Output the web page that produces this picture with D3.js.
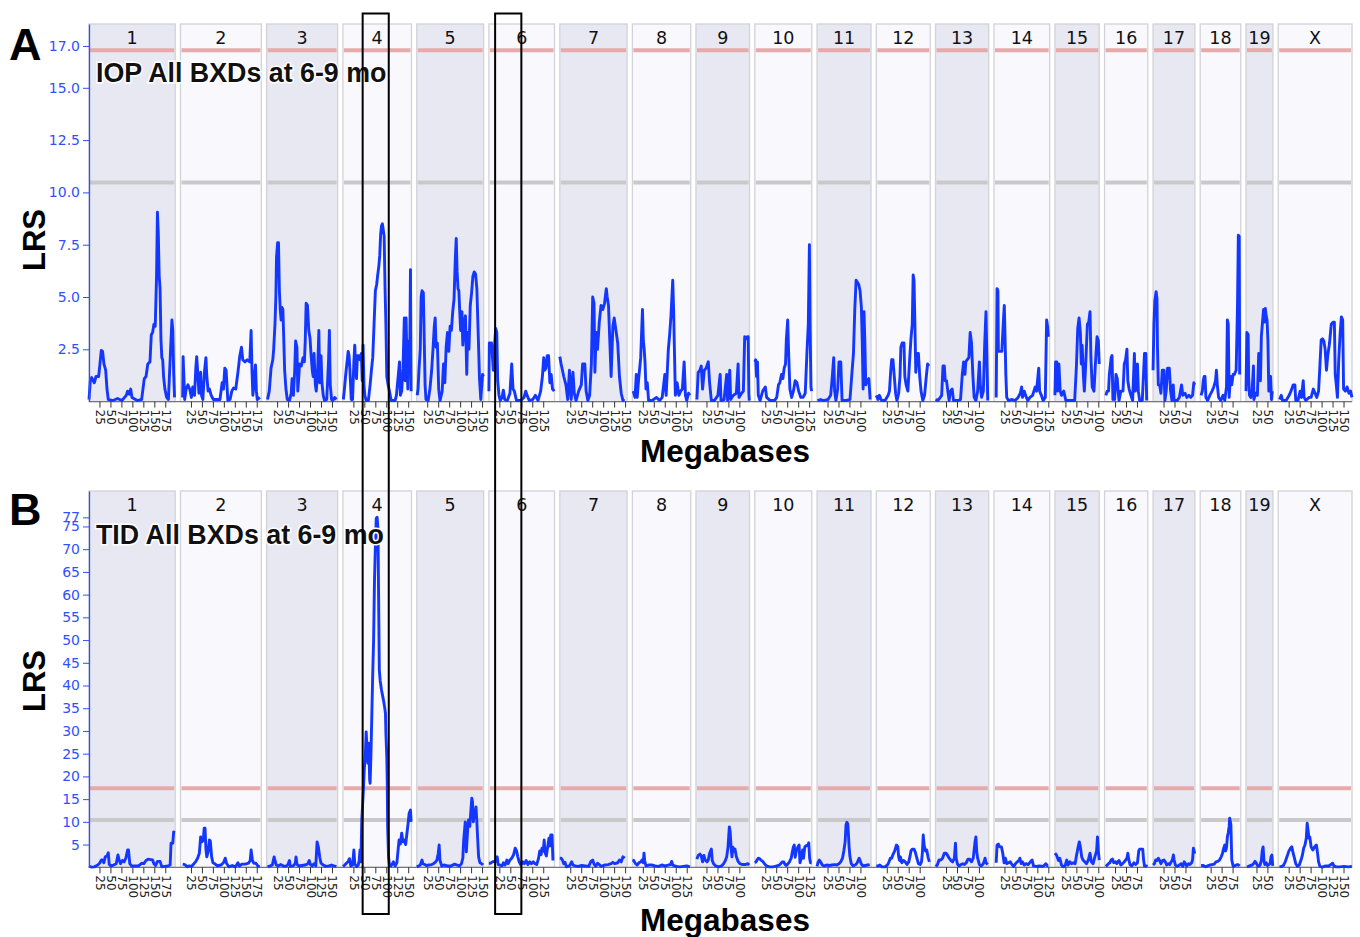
<!DOCTYPE html>
<html>
<head>
  <meta charset="utf-8">
  <title>IOP / TID LRS maps</title>
  <script src="https://d3js.org/d3.v7.min.js"></script>
  <style>
    body{margin:0;background:#fff;}
  </style>
</head>
<body>
<script>
  var w = 1360;
  var h = 937;

  // chromosomes and their lengths (Mb)
  var chrNames = ["1","2","3","4","5","6","7","8","9","10","11","12","13","14","15","16","17","18","19","X"];
  var chrLengths = [196.5,184.4,161.8,156.3,152.4,149.6,153.4,133,122,129.9,123,123,121.2,126.9,101.1,98.5,95.4,92.4,61.4,168.2];

  // IOP, LRS by chromosome: [Mb, LRS]
  var iop1 = [[0,0.1],[3,1.0],[6,1.15],[12,0.9],[16,1.2],[22,1.2],[25,1.8],[28,2.45],[31,2.4],[34,1.8],[38,1.5],[41,0.6],[44,0.1],[55,0.05],[65,0.15],[75,0.05],[85,0.3],[88,0.5],[92,0.35],[95,0.6],[98,0.2],[110,0.05],[120,0.1],[126,1.1],[130,1.2],[134,1.8],[139,1.9],[142,3.2],[145,3.3],[148,3.7],[151,3.6],[154,6.0],[156,9.05],[158,8.0],[160,6.0],[162,5.4],[164,3.0],[166,2.1],[168,2.0],[170,1.2],[173,0.6],[177,0.2],[181,0.1],[186,2.5],[189,3.9],[191,3.4],[193,1.4],[195,0.2]];
  var iop2 = [[5,0.2],[6,2.15],[8,1.0],[9.5,0.1],[13,0.6],[17,0.8],[21,0.6],[25,0.2],[28,0.7],[32,0.3],[35,1.6],[37,2.15],[39,1.5],[42,0.4],[44,0.6],[46,1.4],[48,0.3],[51,0.1],[55,1.5],[58,2.1],[60,1.2],[63,0.5],[66,0.6],[70,0.3],[75,0.1],[82,0.1],[90,0.1],[95,0.9],[98,0.6],[101,1.6],[104,1.5],[108,0.05],[113,0.1],[117,0.5],[121,0.65],[126,0.6],[131,1.4],[135,2.15],[139,2.6],[142,2.0],[147,1.9],[152,2.0],[158,1.9],[161,3.4],[163,1.5],[165,0.3],[168,1.0],[171,1.75],[173,0.5],[175,0.1],[181,0.2]];
  var iop3 = [[2,0.1],[6,0.5],[10,1.6],[14,2.0],[16,2.5],[19,3.7],[21,5.0],[22.5,6.9],[25,7.6],[27,7.6],[29,5.3],[31,4.4],[33,3.9],[35,4.5],[37,4.4],[39,3.0],[41,1.5],[44,0.6],[47,0.1],[52,0.05],[56,0.4],[58,1.1],[61,0.3],[64,1.5],[66,2.9],[69,2.6],[71,0.5],[73,1.1],[75,1.8],[79,1.7],[83,2.1],[86,1.9],[88,2.9],[90,4.7],[93,4.6],[96,3.4],[99,3.0],[101,2.3],[104,1.5],[106,1.2],[108,2.3],[111,0.8],[113,0.5],[116,1.3],[119,3.4],[121,0.9],[124,2.2],[126,0.9],[129,0.3],[132,0.05],[137,0.1],[141,1.9],[143,3.4],[145,0.8],[148,0.1],[151,0.05],[155,0.2],[159,0.1]];
  var iop4 = [[1,0.1],[3,0.5],[6,1.2],[9,1.8],[12,2.4],[14,2.2],[16,1.5],[19,0.1],[22,0.1],[25,1.9],[27,2.7],[29,1.6],[31,1.1],[33,2.2],[36,2.2],[39,2.0],[42,2.3],[44,1.0],[46,2.7],[48,0.8],[50,0.3],[53,0.05],[58,0.05],[62,0.8],[65,1.5],[68,2.1],[71,3.7],[74,5.3],[77,5.6],[79,6.0],[82,6.5],[84,7.0],[86,8.0],[88,8.4],[90,8.5],[92,8.2],[94,7.9],[96,5.5],[98,3.7],[100,1.2],[103,0.8],[106,0.5],[110,0.05],[115,0.05],[119,0.05],[122,0.3],[126,1.2],[129,1.9],[131,0.3],[134,0.5],[137,1.6],[140,4.0],[142,1.0],[144,4.0],[146,2.0],[148,0.6],[150,2.9],[152,1.5],[154,6.3],[155.5,0.5]];
  var iop5 = [[1,0.3],[3,0.6],[5,1.5],[8,2.5],[10,5.0],[12,5.3],[15,5.2],[17,3.0],[19,0.8],[21,0.1],[26,0.05],[30,0.6],[34,1.5],[37,2.5],[40,3.6],[42,4.0],[44,2.6],[47,2.8],[50,0.6],[53,0.05],[58,0.5],[61,1.8],[64,0.9],[67,2.6],[70,3.3],[73,2.4],[76,3.6],[79,3.4],[82,4.3],[85,4.9],[88,6.9],[90,7.8],[92,6.2],[94,5.4],[96,5.3],[98,4.3],[100,3.4],[103,4.3],[105,2.7],[108,3.7],[111,4.1],[114,1.3],[116,3.3],[119,2.5],[122,4.6],[125,5.2],[128,6.0],[131,6.2],[134,6.1],[137,5.4],[140,3.3],[143,1.1],[146,0.1],[150,1.3],[152,1.2]];
  var iop6 = [[0,0.5],[1,2.8],[6,2.8],[10,1.5],[13,2.7],[15.5,3.5],[18,3.3],[20,1.0],[23,0.3],[26,0.05],[30,0.2],[33,0.55],[36,0.1],[42,0.05],[48,0.4],[52,1.8],[55,0.6],[58,0.5],[63,0.05],[72,0.05],[80,0.2],[84,0.5],[87,0.3],[92,0.05],[100,0.1],[106,0.3],[112,0.05],[118,0.5],[122,1.2],[125,2.1],[127,1.5],[130,1.6],[133,2.2],[136,2.2],[139,0.9],[142,1.3],[145,0.6],[149,0.5]];
  var iop7 = [[0,2.15],[3,1.8],[6,1.5],[9,1.2],[14,0.8],[18,0.1],[22,1.5],[26,0.1],[30,1.4],[33,0.4],[37,0.05],[43,0.5],[49,0.8],[52,1.8],[57,1.8],[60,0.5],[64,0.05],[68,0.3],[72,1.8],[75,5.0],[78,4.7],[80,1.4],[83,3.3],[86,2.5],[90,3.8],[94,4.6],[98,4.4],[102,4.7],[106,5.4],[108,5.0],[111,4.6],[114,2.9],[117,1.2],[121,3.6],[124,4.0],[128,3.4],[132,2.8],[136,1.2],[140,0.4],[144,0.05],[148,0.05]];
  var iop8 = [[2,0.5],[6,0.2],[9,1.3],[11,0.2],[14,1.0],[19,2.1],[23,4.4],[25,2.9],[27,2.5],[29,1.8],[31,0.6],[34,0.9],[37,0.05],[45,0.05],[55,0.2],[62,0.05],[68,0.2],[74,1.3],[77,0.3],[82,2.5],[85,3.2],[88,4.1],[92,5.8],[94,4.4],[96,2.3],[98,0.3],[102,0.9],[106,0.3],[110,0.5],[114,0.6],[118,1.9],[121,0.3],[124,0.05],[128,0.4],[131,0.3]];
  var iop9 = [[2,0.1],[5,1.4],[9,1.5],[12,1.7],[15,0.6],[19,1.5],[23,1.6],[28,1.9],[31,0.9],[35,0.05],[42,0.05],[50,0.3],[55,1.3],[57,0.05],[64,0.1],[70,1.3],[72,0.05],[77,1.5],[79,0.1],[85,0.3],[92,0.4],[96,1.8],[98,0.2],[104,0.4],[108,0.5],[111,3.1],[114,3.0],[117,3.1],[119,3.1],[120.5,0.4],[121.5,0.05]];
  var iop10 = [[0,1.9],[2,2.0],[4,1.2],[6,1.9],[8,0.3],[12,0.05],[18,0.5],[24,0.7],[27,0.2],[35,0.05],[45,0.05],[50,0.2],[54,0.8],[57,0.9],[61,1.3],[64,1.1],[67,1.6],[70,1.8],[72,3.0],[75,3.9],[77,2.4],[80,0.6],[84,0.2],[88,0.5],[92,1.0],[96,0.9],[100,0.5],[105,0.2],[110,0.2],[115,0.4],[119,2.4],[122,3.7],[124.5,7.5],[126,3.7],[128,0.7],[129.5,0.5]];
  var iop11 = [[1,0.05],[8,0.1],[15,0.05],[25,0.1],[31,0.3],[34,1.0],[38,2.1],[40,0.5],[43,0.05],[47,0.6],[50,1.9],[54,1.9],[57,0.05],[65,0.05],[75,0.1],[80,1.5],[83,2.3],[86,4.4],[89,5.8],[92,5.7],[95,5.6],[98,5.3],[101,4.5],[103,2.9],[105,0.6],[107,4.3],[109,2.8],[111,0.8],[114,1.0],[118,1.1],[121,0.1]];
  var iop12 = [[0,0.3],[4,0.1],[7,0.3],[12,0.05],[20,0.05],[27,0.3],[30,0.5],[33,1.5],[35,2.0],[38,2.0],[41,1.2],[44,0.4],[47,0.05],[51,0.4],[54,1.2],[56,2.6],[59,2.8],[63,2.8],[65,1.2],[68,0.8],[72,0.5],[76,2.0],[79,3.0],[82,3.7],[84,6.05],[86,5.8],[88,3.7],[90,1.4],[93,2.3],[96,2.3],[99,1.2],[102,0.5],[106,0.05],[110,0.3],[114,1.2],[117,1.8],[120,1.7]];
  var iop13 = [[0,0.1],[5,0.05],[9,0.15],[14,0.3],[17,1.7],[20,1.7],[22,1.0],[25,1.0],[28,0.5],[31,0.05],[34,0.5],[38,0.6],[41,0.05],[50,0.05],[57,0.1],[61,1.3],[64,1.9],[67,1.3],[69,1.9],[72,2.0],[76,2.1],[79,3.3],[82,2.8],[85,1.3],[88,0.2],[92,0.05],[96,0.5],[100,1.9],[102,0.8],[105,0.2],[109,0.5],[112,2.7],[115,4.3],[117,2.1],[119,0.05]];
  var iop14 = [[5,0.2],[7,5.4],[9,5.3],[10,2.4],[14,2.4],[18,2.4],[21,3.7],[23.5,4.6],[25,3.3],[27,1.3],[29,0.2],[33,0.05],[40,0.1],[48,0.05],[55,0.2],[60,0.4],[63,0.7],[65,0.2],[69,0.5],[72,0.3],[77,0.05],[82,0.2],[88,0.3],[94,0.7],[97,0.5],[102,1.6],[104,0.5],[108,0.3],[112,0.05],[117,0.2],[120,3.9],[122,3.6],[124,3.1]];
  var iop15 = [[0,0.3],[1.5,1.9],[4,1.9],[6,0.5],[9,1.8],[12,0.5],[15,0.3],[20,0.5],[25,0.05],[35,0.05],[45,0.05],[49,1.7],[52,3.5],[55,4.0],[58,3.3],[60,1.8],[62,2.7],[65,1.2],[67,0.5],[70,1.7],[74,3.7],[77,3.8],[80,4.3],[82,2.1],[85,0.7],[89,0.5],[92,1.7],[96,3.1],[99,2.9],[101,1.8]];
  var iop16 = [[3,0.3],[6,0.5],[9,0.5],[11,1.3],[15,2.1],[17,2.2],[19,0.1],[21,0.8],[23,0.1],[26,1.3],[29,1.1],[31,0.5],[33,0.05],[37,0.5],[42,0.5],[45,1.8],[48,2.0],[51,2.5],[53,1.0],[56,0.6],[60,0.3],[64,0.05],[68,2.3],[70,0.5],[72,0.6],[75,1.8],[77,0.5],[80,0.05],[86,0.05],[91,2.3],[94,2.3],[96,0.05]];
  var iop17 = [[0,1.5],[2,3.7],[4,4.8],[7,5.25],[9,4.9],[10,2.7],[12,0.8],[15,0.8],[18,0.4],[21,1.5],[25,1.5],[27,0.05],[30,0.5],[33,1.6],[37,1.6],[40,0.5],[43,0.05],[46,0.8],[48,0.05],[55,0.05],[60,0.2],[65,0.8],[68,0.3],[73,0.4],[77,0.2],[82,0.3],[86,0.2],[90,0.3],[93,0.9],[95,0.8]];
  var iop18 = [[2,0.3],[5,0.5],[7,1.0],[9,1.2],[11,1.2],[13,0.2],[17,0.05],[22,0.3],[27,0.5],[31,0.7],[35,1.0],[37,1.5],[39,0.8],[42,0.2],[47,0.05],[52,0.3],[56,0.05],[60,0.7],[62,3.9],[64,3.7],[66,0.2],[69,1.2],[72,0.8],[75,1.3],[78,1.3],[82,1.5],[85,4.5],[87,7.95],[89,7.9],[90,1.3]];
  var iop19 = [[0,0.5],[2,3.3],[5,3.2],[6,1.2],[8,0.3],[11,0.2],[14,0.5],[17,1.7],[18,0.1],[22,0.4],[26,0.3],[29,2.3],[31,1.8],[33,1.0],[35,3.1],[38,3.9],[40,4.4],[42,3.8],[44,4.45],[46,4.1],[48,3.9],[50,2.9],[52,0.5],[54,1.2],[56,1.2],[58,0.1],[60,0.5]];
  var iopX = [[3,0.1],[7,0.3],[10,0.05],[18,0.05],[25,0.3],[30,0.55],[34,0.8],[38,0.8],[40,0.05],[45,0.05],[50,0.5],[53,0.2],[57,1.0],[59,0.2],[63,0.05],[70,0.2],[75,0.2],[80,0.6],[84,0.4],[88,0.2],[92,0.5],[95,1.7],[98,2.95],[101,3.0],[104,2.9],[107,2.5],[110,1.5],[113,2.2],[117,2.8],[121,3.7],[125,3.8],[128,3.8],[130,1.3],[132,0.9],[135,0.2],[138,2.0],[141,3.2],[144,4.05],[147,3.9],[149,0.6],[153,0.5],[157,0.7],[161,0.4],[165,0.5],[168,0.2]];

  // TID, LRS by chromosome: [Mb, LRS]
  var tid1 = [[0,0.3],[5,0.05],[12,0.1],[20,0.5],[25,1.0],[28,1.6],[31,1.6],[34,1.0],[37,2.3],[41,2.5],[44,3.2],[46,0.7],[50,0.3],[56,0.5],[62,0.8],[66,2.7],[69,1.5],[72,0.8],[76,1.5],[80,1.2],[84,2.0],[88,3.8],[90,3.8],[93,0.8],[97,0.3],[105,0.3],[113,0.3],[120,0.9],[125,0.8],[130,1.5],[135,1.8],[140,1.7],[145,1.6],[148,0.8],[152,0.4],[156,1.3],[162,1.3],[166,0.1],[172,0.2],[180,0.3],[185,0.5],[187,5.3],[191,5.3],[193,7.8],[195,7.6]];
  var tid2 = [[5,0.7],[10,0.6],[15,0.1],[20,0.3],[25,0.2],[30,0.7],[35,1.3],[39,2.0],[43,3.1],[46,6.7],[49,5.6],[52,6.0],[54,8.6],[56,8.6],[58,4.0],[60,2.3],[63,3.4],[66,6.0],[68,5.8],[71,2.3],[74,1.0],[78,0.8],[84,0.3],[92,0.5],[98,1.0],[102,2.0],[105,0.9],[110,0.1],[118,0.4],[125,0.1],[131,1.0],[134,0.3],[140,0.7],[148,0.7],[155,0.9],[159,1.5],[161,3.8],[164,1.5],[167,0.9],[172,0.9],[177,0.2],[181,0.2]];
  var tid3 = [[2,0.1],[8,0.3],[13,0.5],[17,2.3],[19,1.5],[22,0.5],[26,0.3],[32,0.6],[38,0.3],[43,0.2],[48,0.5],[52,1.5],[54,0.2],[60,0.3],[65,0.8],[67,2.3],[69,0.7],[73,0.3],[80,0.4],[88,0.5],[94,0.8],[97,1.5],[100,0.6],[104,0.3],[108,0.8],[112,0.3],[115,5.6],[118,4.4],[121,2.2],[124,0.9],[129,0.5],[135,0.2],[142,0.3],[148,0.5],[153,0.3],[159,0.2]];
  var tid4 = [[0,0.2],[4,0.5],[8,0.9],[12,1.3],[15,1.9],[18,0.3],[22,0.5],[25,3.8],[27,0.8],[31,0.1],[35,0.5],[37,1.5],[39,3.8],[41,1.2],[43,10.4],[45,14],[47,17.7],[49,22],[51,24.3],[53,29.8],[55,26],[57,22.9],[59,27.3],[61,19.2],[62,18.5],[64,25.1],[66,33.9],[68,42.7],[70,50],[72,63.2],[74,70.5],[76,76.8],[78,77.0],[80,74.2],[81,63.2],[83,43.4],[85,41],[88,39],[91,37.5],[93,36.5],[95,35.3],[97,33.9],[98,29.5],[100,24.3],[101,19.2],[102,8.9],[104,2.3],[106,0.5],[110,0.3],[115,1.2],[119,0.3],[123,1.0],[125,3.0],[128,6.0],[131,5.1],[134,7.5],[137,5.6],[140,6.0],[143,5.0],[146,7.5],[149,10],[151,11.9],[154,12.6],[155.5,10]];
  var tid5 = [[0,0.1],[4,0.3],[8,0.5],[12,1.6],[14,0.8],[18,0.6],[22,0.4],[28,0.5],[34,0.6],[38,0.8],[42,1.1],[46,1.6],[49,3.1],[51,4.9],[53,1.5],[57,0.3],[62,0.5],[70,0.3],[78,0.3],[86,0.7],[92,0.5],[97,0.3],[102,0.8],[105,2.0],[107,6.0],[109,8.2],[110.5,10.0],[112,8.2],[113,3.4],[116,8.2],[118,10.4],[121,9.0],[123,12],[125.5,15.2],[127,14.5],[129,10],[131,12.5],[133,11],[135,13.3],[137,10],[139,6],[141,2.3],[144,1.0],[148,0.8],[151,0.5]];
  var tid6 = [[0,0.9],[4,0.9],[8,1.2],[12,1.3],[16,1.3],[19,2.3],[21,0.6],[25,0.5],[30,0.3],[33,1.0],[37,0.5],[41,1.6],[44,0.8],[48,1.6],[52,2.0],[56,2.7],[60,4.2],[63,3.6],[66,2.3],[69,1.2],[73,0.5],[77,1.2],[81,0.8],[85,1.5],[89,0.6],[93,1.2],[97,0.8],[101,1.2],[105,0.8],[109,0.6],[113,1.9],[116,3.6],[119,2.8],[121,4.2],[124,3.6],[126,6.0],[128,3.2],[131,2.5],[134,4.5],[137,6.4],[139,4.7],[141,7.1],[144,7.1],[146,1.5]];
  var tid7 = [[0,2.0],[3,2.0],[6,1.6],[9,0.8],[12,1.1],[15,0.1],[22,0.3],[27,1.2],[30,0.5],[35,0.3],[42,0.2],[50,0.4],[58,0.3],[66,0.2],[71,1.3],[75,1.6],[78,0.7],[82,0.2],[86,0.9],[90,0.6],[94,0.2],[102,0.5],[110,0.6],[117,0.8],[121,1.1],[125,0.8],[132,1.0],[136,1.6],[140,1.2],[144,2.3],[148,2.0]];
  var tid8 = [[0,1.6],[3,1.5],[7,0.8],[11,0.5],[15,1.0],[19,1.2],[22,1.6],[25,1.0],[26.5,3.1],[28,1.5],[31,0.3],[37,0.5],[44,0.5],[52,0.3],[60,0.2],[67,0.5],[75,0.3],[82,0.5],[87,0.6],[89.5,1.3],[92,0.5],[100,0.2],[108,0.1],[116,0.2],[124,0.3],[131,0.1]];
  var tid9 = [[2,1.8],[5,2.6],[9,2.9],[12,2.5],[15,1.2],[18,2.6],[21,1.6],[25,1.2],[28,1.6],[31,3.1],[35,4.0],[37,1.5],[40,0.8],[45,0.3],[52,0.1],[58,0.3],[63,0.8],[67,1.5],[70,2.3],[73,4.5],[76,8.9],[78,7.7],[80,4.3],[82,2.3],[84,4.4],[86,3.5],[89,4.0],[92,2.3],[96,1.3],[100,0.8],[106,0.6],[112,0.6],[118,0.8],[121.5,0.5]];
  var tid10 = [[0,1.0],[3,1.2],[5,1.6],[8,2.0],[11,1.9],[14,1.6],[18,1.3],[22,0.8],[27,0.3],[33,0.1],[42,0.1],[50,0.3],[56,0.5],[60,0.9],[63,1.2],[66,1.2],[69,0.6],[72,0.4],[75,0.7],[79,1.2],[83,2.0],[85,3.1],[88,4.5],[90,4.9],[92,2.2],[95,3.8],[98,4.4],[101,4.9],[103,1.0],[106,2.0],[109,3.8],[111,2.0],[114,4.5],[118,4.8],[121,4.8],[123,5.4],[125,2.0],[127,1.0],[129.5,1.0]];
  var tid11 = [[0,0.2],[2,1.0],[5,1.6],[8,1.2],[12,0.5],[16,0.3],[22,0.5],[28,0.4],[34,0.5],[40,0.6],[45,0.5],[50,0.8],[54,1.2],[58,2.0],[61,3.6],[64,5.6],[66,9.3],[68,9.9],[70,9.6],[71,8.2],[73,4.5],[75,2.3],[78,0.8],[82,0.3],[87,0.5],[91,0.9],[94,1.6],[96,2.0],[98,1.5],[101,0.7],[105,0.3],[110,0.4],[115,0.5],[120,0.6]];
  var tid12 = [[0,0.3],[4,0.3],[8,0.5],[13,0.1],[20,0.1],[26,0.6],[29,1.2],[32,2.0],[35,2.0],[38,2.8],[42,3.6],[46,4.9],[49,4.6],[51,2.3],[53,1.5],[55,2.3],[58,1.0],[62,1.5],[66,1.2],[70,0.6],[74,1.2],[77,2.5],[79,3.6],[82,4.0],[86,4.0],[89,3.3],[92,2.2],[96,0.8],[100,0.6],[103,1.2],[105,3.1],[107,7.1],[109,4.9],[112,3.6],[115,3.8],[118,2.2],[121,1.2]];
  var tid13 = [[0,0.2],[4,0.5],[8,1.6],[12,1.6],[16,2.0],[20,3.1],[24,3.1],[27,2.7],[31,2.0],[35,1.5],[39,1.2],[43,2.0],[45.5,5.3],[47,2.0],[50,0.7],[54,0.3],[58,0.6],[62,0.8],[66,0.6],[70,1.0],[74,1.8],[78,1.8],[82,1.2],[86,2.0],[90,5.6],[92,6.7],[94,3.3],[96,2.0],[100,0.6],[104,0.3],[109,0.8],[113,2.0],[115,1.0],[119,0.6]];
  var tid14 = [[5,1.0],[7,4.9],[10,5.1],[13,4.5],[17,4.5],[20,3.1],[23,1.0],[26,2.0],[29,0.8],[33,1.0],[37,1.2],[41,0.6],[45,0.2],[49,0.8],[53,1.2],[57,1.5],[59,2.0],[62,0.8],[65,1.2],[69,0.5],[73,0.8],[78,0.6],[83,1.2],[87,1.6],[90,0.3],[96,0.2],[104,0.3],[112,0.2],[118,0.8],[122,0.3],[124,0.3]];
  var tid15 = [[0,3.1],[4,2.6],[8,1.5],[11,2.0],[15,0.5],[19,0.1],[23,0.3],[27,1.6],[30,0.5],[34,1.2],[38,0.8],[42,1.0],[46,0.8],[49,2.5],[53,4.5],[55.5,5.6],[58,4.5],[61,2.3],[64,1.6],[68,1.2],[72,0.8],[76,1.6],[80,3.1],[83,1.2],[87,0.8],[91,2.3],[95,3.6],[97,6.7],[99,3.6],[101,1.6]];
  var tid16 = [[3,0.2],[6,0.5],[9,0.8],[12,1.0],[15,1.6],[18,1.8],[21,1.0],[25,1.2],[28,0.8],[30,1.2],[33,1.5],[37,0.5],[41,0.8],[45,1.2],[48,1.6],[51,2.0],[53,3.1],[55,1.8],[58,0.6],[62,0.3],[67,1.0],[71,0.6],[75,1.0],[78,3.6],[80,4.0],[84,4.0],[87,4.0],[89,1.6],[91,0.3],[95,0.3],[98,0.2]];
  var tid17 = [[0,0.5],[3,0.8],[6,1.6],[9,1.5],[12,2.0],[15,1.5],[18,0.8],[22,1.5],[25,1.6],[28,1.2],[31,0.5],[35,0.8],[38,0.6],[42,1.3],[44,1.6],[46.4,2.7],[48,1.6],[51,0.5],[55,0.2],[60,0.5],[64,0.8],[68,0.2],[71,1.2],[74,0.8],[77,0.3],[81,0.8],[84,0.6],[88,1.0],[90,1.6],[92,4.2],[94,3.4],[95,3.0]];
  var tid18 = [[2,0.4],[7,0.4],[12,0.1],[17,0.3],[22,0.5],[27,0.6],[32,0.7],[36,1.2],[40,1.3],[44,1.6],[48,2.3],[51,3.1],[53,4.0],[56,4.9],[58,3.6],[60,4.3],[62,6.7],[64,7.6],[66,9.0],[67.3,10.8],[69,9.9],[70,9.3],[72,1.6],[75,0.3],[78,0.3],[82,0.5],[86,0.6],[90,0.3]];
  var tid19 = [[2,0.1],[6,0.2],[10,0.4],[14,0.5],[18,0.9],[20.5,1.3],[23,1.0],[26,0.4],[29,0.2],[32,0.5],[35,1.5],[37,3.6],[39,4.5],[41,1.3],[43,0.6],[46,1.0],[49,0.4],[52,0.6],[55,0.8],[57,2.3],[59,2.7],[61,0.3]];
  var tidX = [[3,0.1],[8,0.2],[12,0.4],[16,1.2],[20,2.3],[24,3.5],[28,4.2],[31,4.5],[34,3.1],[37,2.0],[40,0.8],[44,0.2],[48,0.5],[52,1.6],[55,2.6],[58,4.2],[61,4.9],[64,6.4],[66,9.7],[68,8.2],[70,6.4],[72,6.7],[75,4.5],[79,3.8],[83,4.5],[87,4.9],[89,3.6],[92,1.2],[95,0.2],[100,0.05],[108,0.3],[115,0.3],[120,0.6],[124,0.9],[127,0.3],[132,0.1],[140,0.1],[150,0.2],[160,0.1],[168,0.2]];

  var iopLines = [iop1,iop2,iop3,iop4,iop5,iop6,iop7,iop8,iop9,iop10,iop11,iop12,iop13,iop14,iop15,iop16,iop17,iop18,iop19,iopX];
  var tidLines = [tid1,tid2,tid3,tid4,tid5,tid6,tid7,tid8,tid9,tid10,tid11,tid12,tid13,tid14,tid15,tid16,tid17,tid18,tid19,tidX];

  // y tick labels and thresholds (suggestive, significant)
  var iopTicks = [2.5,5,7.5,10,12.5,15,17];
  var tidTicks = [5,10,15,20,25,30,35,40,45,50,55,60,65,70,75,77];
  var iopThresholds = [10.47,16.8];
  var tidThresholds = [10.4,17.4];

  // boxed intervals (chromosome, start Mb, end Mb)
  var boxChr = ["4","6"];
  var boxStart = [45,14.2];
  var boxEnd = [104.5,74];

  var blue = "#1437ff";
  var axisBlue = "#3050ff";
  var boldFont = "'Liberation Sans', Arial, sans-serif";
  var plainFont = "'DejaVu Sans', Verdana, sans-serif";

  var svg = d3.select("body").append("svg").attr("width",w).attr("height",h);

  // chromosome layout along x
  var left = 89, right = 1352, gap = 5.28;
  var pxPerMb = (right-left-gap*(chrLengths.length-1))/d3.sum(chrLengths);
  var xScales = [];
  var pos = left;
  chrLengths.forEach(function(len){
    xScales.push(d3.scaleLinear().domain([0,len]).range([pos,pos+len*pxPerMb]));
    pos += len*pxPerMb + gap;
  });

  var panels = [
    {letter:"A",title:"IOP All BXDs at 6-9 mo",lines:iopLines,ticks:iopTicks,thr:iopThresholds,
     top:24,bottom:401.6,yMax:18.05,fmt:d3.format(".1f"),lrsY:240,mbY:461.5,letterY:60,titleY:81.5},
    {letter:"B",title:"TID All BXDs at 6-9 mo",lines:tidLines,ticks:tidTicks,thr:tidThresholds,
     top:491,bottom:867.3,yMax:82.8,fmt:d3.format("d"),lrsY:681,mbY:931,letterY:525,titleY:543.5}
  ];

  panels.forEach(function(p){
    var y = d3.scaleLinear().domain([0,p.yMax]).range([p.bottom,p.top]);
    var g = svg.append("g");

    // chromosome backgrounds
    g.selectAll("rect.chr")
      .data(chrNames)
      .enter()
      .append("rect")
      .attr("x",function(d,i){return xScales[i].range()[0];})
      .attr("y",p.top)
      .attr("width",function(d,i){return xScales[i].range()[1]-xScales[i].range()[0];})
      .attr("height",p.bottom-p.top)
      .attr("fill",function(d,i){return i%2==0 ? "#e8e8f3" : "#f8f8fd";})
      .attr("stroke","#d2d2d8")
      .attr("stroke-width",1.3);

    // threshold bands per chromosome
    var thrColors = ["#c9c9c9","#e6aaaa"];
    p.thr.forEach(function(t,k){
      g.selectAll(null)
        .data(chrNames)
        .enter()
        .append("line")
        .attr("x1",function(d,i){return xScales[i].range()[0]+1;})
        .attr("x2",function(d,i){return xScales[i].range()[1]-1;})
        .attr("y1",y(t)).attr("y2",y(t))
        .attr("stroke",thrColors[k])
        .attr("stroke-width",4);
    });

    // chromosome names
    g.selectAll("text.chrname")
      .data(chrNames)
      .enter()
      .append("text")
      .text(function(d){return d;})
      .attr("x",function(d,i){return (xScales[i].range()[0]+xScales[i].range()[1])/2;})
      .attr("y",p.top+19.5)
      .attr("text-anchor","middle")
      .attr("font-family",plainFont)
      .attr("font-size","17.5px")
      .attr("fill","#111");

    // x axis baseline, ticks and labels
    g.append("line")
      .attr("x1",left).attr("x2",right)
      .attr("y1",p.bottom).attr("y2",p.bottom)
      .attr("stroke","#777").attr("stroke-width",1.2);

    chrNames.forEach(function(c,i){
      var xs = xScales[i];
      var ticks = d3.range(25,chrLengths[i],25);
      var tg = g.append("g");
      tg.selectAll("line")
        .data(ticks)
        .enter()
        .append("line")
        .attr("x1",function(d){return xs(d);})
        .attr("x2",function(d){return xs(d);})
        .attr("y1",p.bottom).attr("y2",p.bottom+6)
        .attr("stroke","#333").attr("stroke-width",1);
      tg.selectAll("text")
        .data(ticks)
        .enter()
        .append("text")
        .text(function(d){return d;})
        .attr("transform",function(d){return "translate("+xs(d)+","+(p.bottom+8)+") rotate(90)";})
        .attr("dominant-baseline","central")
        .attr("font-family",plainFont)
        .attr("font-size","12px")
        .attr("fill","#222");
    });

    // LRS curves
    var line = d3.line();
    chrNames.forEach(function(c,i){
      var xs = xScales[i];
      line.x(function(d){return xs(d[0]);}).y(function(d){return y(d[1]);});
      g.append("path")
        .datum(p.lines[i])
        .attr("d",line)
        .attr("fill","none")
        .attr("stroke",blue)
        .attr("stroke-width",2.9)
        .attr("stroke-linejoin","round");
    });

    // y axis
    var ax = g.append("g")
      .attr("transform","translate("+left+",0)")
      .call(d3.axisLeft(y).tickValues(p.ticks).tickFormat(p.fmt).tickSize(6).tickSizeOuter(0).tickPadding(3));
    ax.select(".domain").attr("stroke",axisBlue).attr("stroke-width",1.3);
    ax.selectAll(".tick line").attr("stroke",axisBlue);
    ax.selectAll(".tick text")
      .attr("fill",axisBlue)
      .attr("font-family",plainFont)
      .attr("font-size","14px");

    // labels
    g.append("text")
      .text("LRS")
      .attr("transform","translate(45,"+p.lrsY+") rotate(-90)")
      .attr("text-anchor","middle")
      .attr("font-family",boldFont)
      .attr("font-weight","bold")
      .attr("font-size","31px");

    g.append("text")
      .text("Megabases")
      .attr("x",725).attr("y",p.mbY)
      .attr("text-anchor","middle")
      .attr("font-family",boldFont)
      .attr("font-weight","bold")
      .attr("font-size","31.5px");

    g.append("text")
      .text(p.letter)
      .attr("x",9).attr("y",p.letterY)
      .attr("font-family",boldFont)
      .attr("font-weight","bold")
      .attr("font-size","45px");

    g.append("text")
      .text(p.title)
      .attr("x",96).attr("y",p.titleY)
      .attr("font-family",boldFont)
      .attr("font-weight","bold")
      .attr("font-size","26.8px")
      .attr("fill","#111")
      .attr("stroke","#fff")
      .attr("stroke-width",3)
      .attr("paint-order","stroke");
  });

  // boxed intervals across both maps
  svg.selectAll("rect.box")
    .data(boxChr)
    .enter()
    .append("rect")
    .attr("x",function(d,i){return xScales[chrNames.indexOf(d)](boxStart[i]);})
    .attr("width",function(d,i){var xs = xScales[chrNames.indexOf(d)]; return xs(boxEnd[i])-xs(boxStart[i]);})
    .attr("y",13.5)
    .attr("height",900.5)
    .attr("fill","none")
    .attr("stroke","#000")
    .attr("stroke-width",2);
</script>
</body>
</html>
